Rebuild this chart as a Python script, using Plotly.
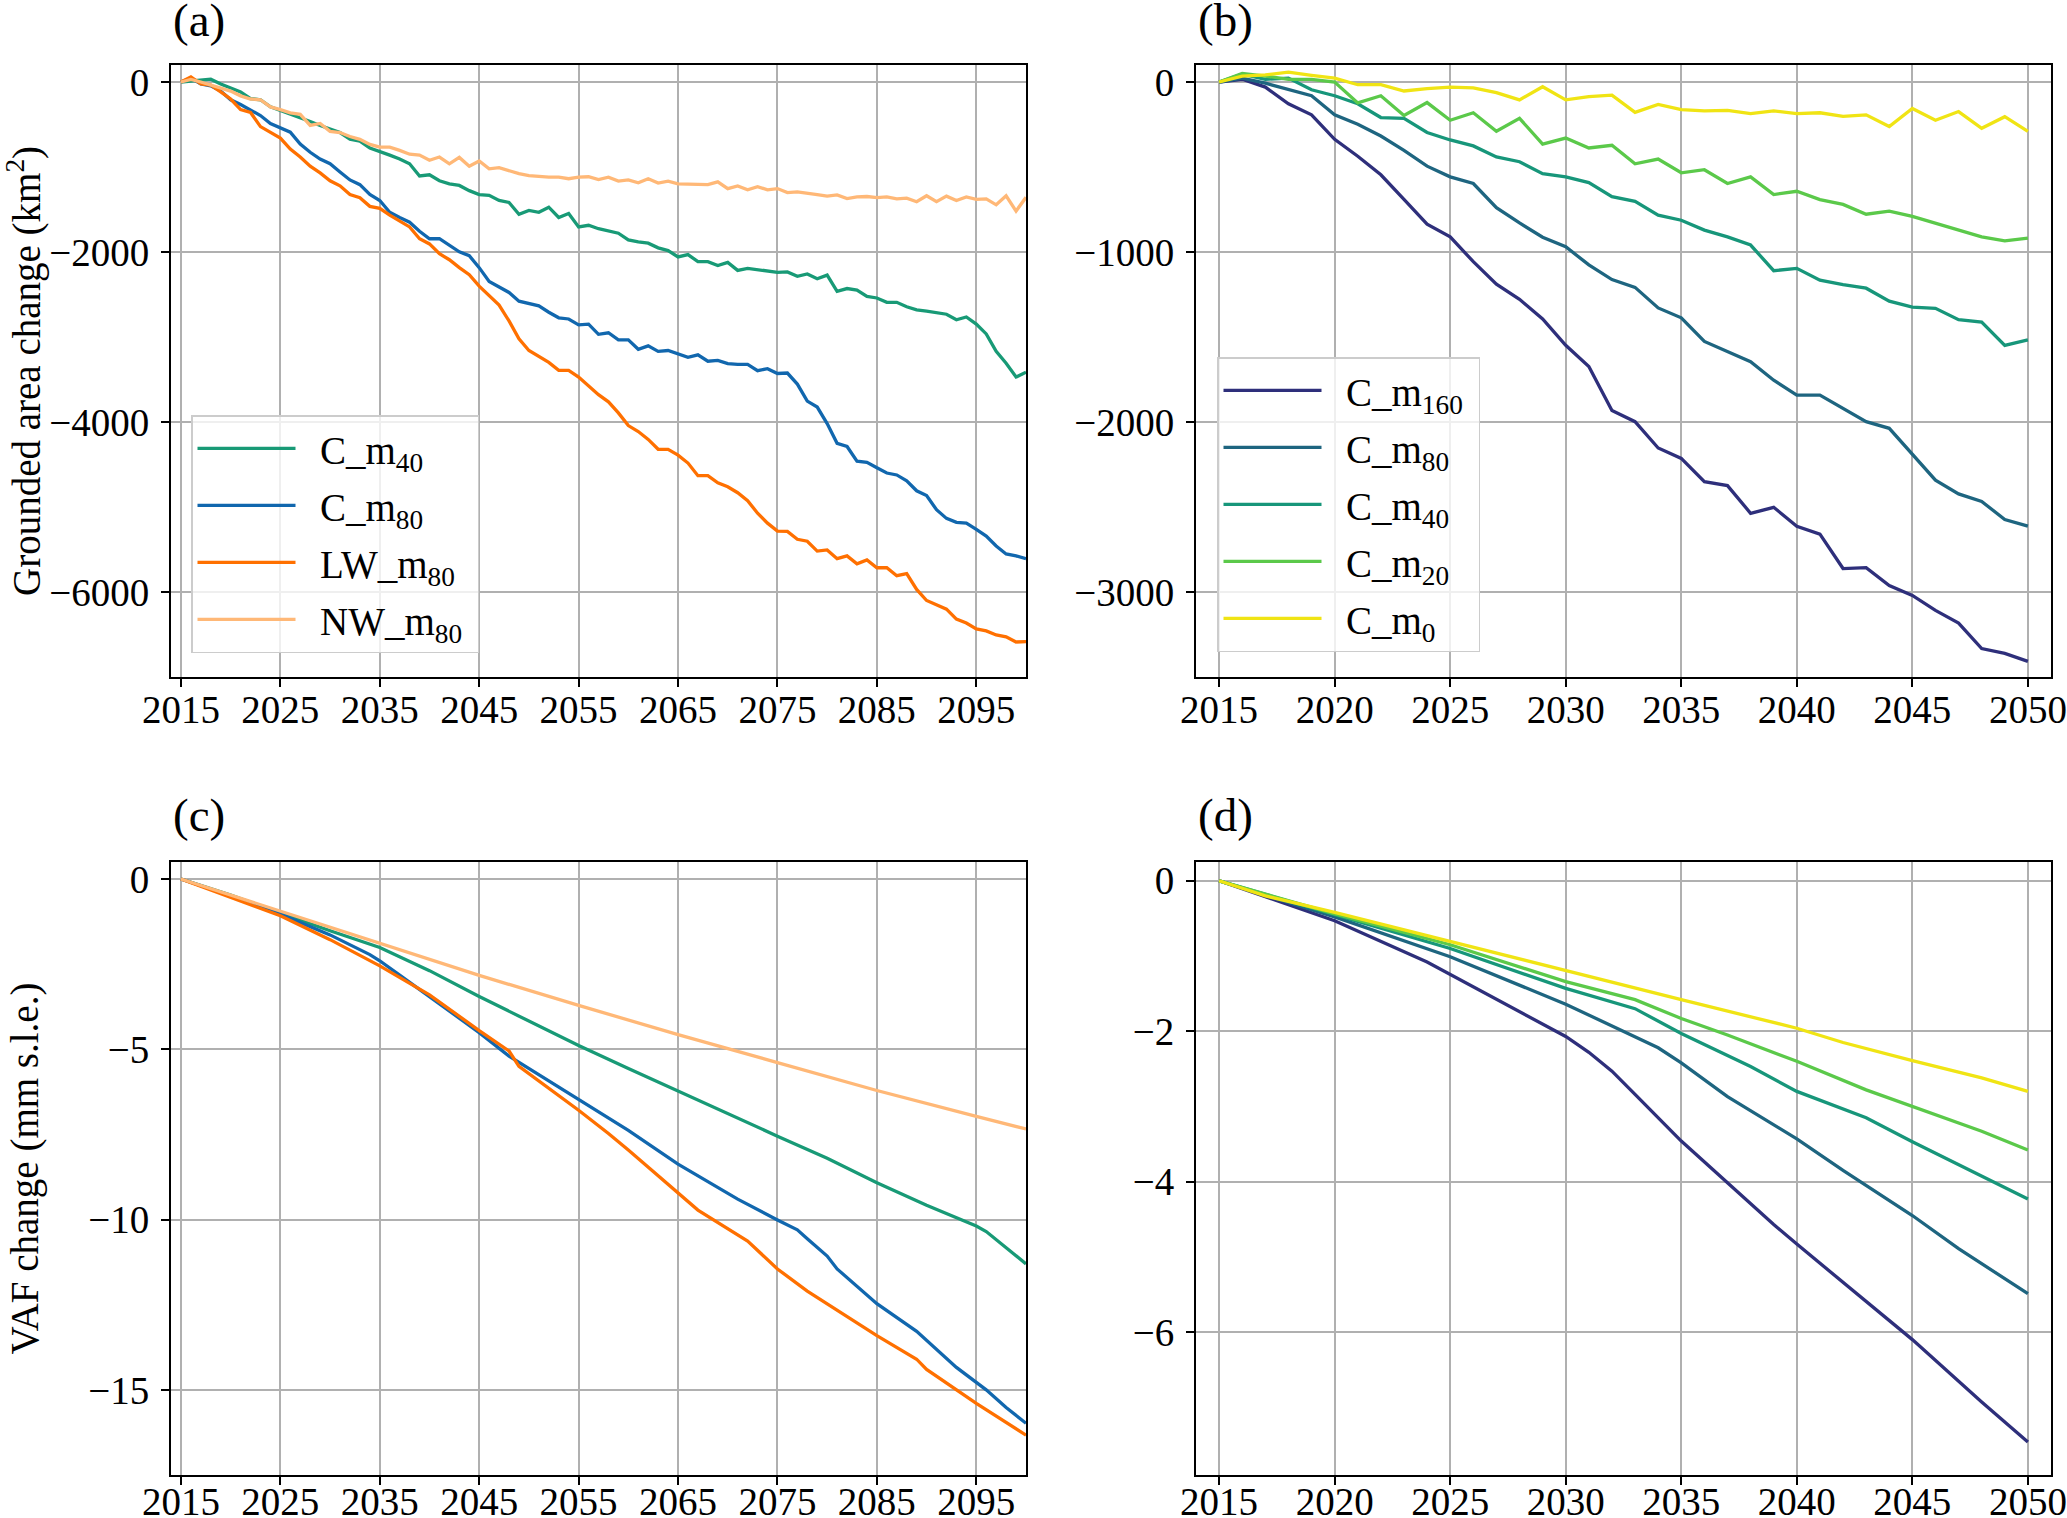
import plotly.graph_objects as go

# ---------------- data ----------------
years_a = list(range(2015, 2101))
years_b = list(range(2015, 2051))

# Panel (a): grounded area change (km^2), 2015-2100
a_C_m40 = [0, 10, 23, 33, -23, -70, -116, -195, -209, -293,
           -335, -372, -418, -465, -511, -558, -595, -674, -697, -776,
           -813, -860, -906, -962, -1106, -1092, -1162, -1199, -1217, -1278,
           -1324, -1333, -1394, -1417, -1556, -1510, -1533, -1473, -1594, -1547,
           -1705, -1686, -1726, -1752, -1779, -1858, -1882, -1896, -1951, -1984,
           -2058, -2030, -2114, -2114, -2160, -2123, -2216, -2193, -2207, -2230,
           -2239, -2235, -2286, -2258, -2314, -2272, -2462, -2430, -2448, -2523,
           -2541, -2592, -2592, -2644, -2681, -2695, -2709, -2732, -2797, -2764,
           -2848, -2964, -3169, -3308, -3471, -3415]
a_C_m80 = [0, 46, -23, -46, -107, -209, -265, -325, -395, -488,
           -544, -590, -729, -827, -906, -962, -1059, -1152, -1208, -1324,
           -1394, -1533, -1594, -1649, -1756, -1844, -1844, -1919, -1998, -2044,
           -2184, -2346, -2416, -2476, -2579, -2611, -2634, -2709, -2774, -2788,
           -2857, -2848, -2968, -2950, -3034, -3034, -3145, -3104, -3169, -3159,
           -3196, -3238, -3210, -3285, -3275, -3313, -3322, -3322, -3396, -3373,
           -3429, -3424, -3554, -3754, -3824, -4019, -4251, -4288, -4460, -4474,
           -4539, -4600, -4623, -4692, -4809, -4864, -5032, -5134, -5180, -5190,
           -5264, -5343, -5459, -5552, -5575, -5608]
a_LW_m80 = [0, 60, -23, -37, -116, -200, -325, -358, -525, -590,
            -660, -790, -883, -990, -1069, -1162, -1222, -1324, -1361, -1463,
            -1487, -1566, -1640, -1705, -1844, -1905, -2021, -2091, -2184, -2267,
            -2402, -2509, -2625, -2811, -3020, -3159, -3229, -3299, -3392, -3392,
            -3471, -3577, -3678, -3763, -3893, -4042, -4112, -4205, -4321, -4321,
            -4390, -4483, -4632, -4632, -4716, -4762, -4832, -4925, -5073, -5190,
            -5283, -5287, -5380, -5403, -5519, -5505, -5608, -5575, -5668, -5622,
            -5715, -5715, -5808, -5784, -5970, -6100, -6156, -6202, -6319, -6365,
            -6435, -6458, -6505, -6528, -6588, -6584]
a_NW_m80 = [0, 30, 0, -37, -70, -107, -163, -200, -209, -293,
            -325, -362, -381, -511, -488, -581, -595, -641, -674, -734,
            -767, -767, -804, -850, -860, -920, -883, -962, -887, -990,
            -929, -1022, -1008, -1045, -1078, -1101, -1115, -1120, -1120, -1138,
            -1120, -1115, -1148, -1120, -1166, -1152, -1185, -1138, -1189, -1166,
            -1199, -1203, -1208, -1208, -1175, -1254, -1222, -1268, -1231, -1268,
            -1254, -1301, -1292, -1305, -1324, -1343, -1329, -1371, -1352, -1347,
            -1361, -1352, -1375, -1366, -1408, -1338, -1408, -1343, -1394, -1352,
            -1380, -1375, -1445, -1338, -1519, -1357]

# Panel (b): grounded area change (km^2), 2015-2050
b_C_m160 = [0, 16, -30, -128, -193, -337, -437, -546, -690, -836,
            -911, -1057, -1189, -1278, -1394, -1549, -1673, -1933, -1998, -2153,
            -2214, -2351, -2374, -2537, -2502, -2613, -2660, -2862, -2857, -2962,
            -3020, -3108, -3183, -3333, -3361, -3408]
b_C_m80 = [0, 23, -7, -46, -81, -193, -249, -318, -402, -495,
           -558, -597, -739, -829, -913, -969, -1076, -1162, -1208, -1329,
           -1387, -1526, -1584, -1645, -1754, -1842, -1842, -1921, -1998, -2037,
           -2191, -2342, -2423, -2467, -2574, -2613]
b_C_m40 = [0, 46, 16, 23, -46, -81, -128, -209, -214, -297,
           -341, -376, -441, -469, -539, -558, -592, -674, -702, -783,
           -813, -871, -911, -959, -1110, -1096, -1166, -1192, -1213, -1289,
           -1324, -1331, -1398, -1412, -1549, -1517]
b_C_m20 = [0, 51, 35, 16, 16, 0, -123, -81, -197, -121,
           -225, -181, -290, -214, -365, -330, -388, -372, -481, -453,
           -534, -516, -597, -558, -662, -643, -692, -720, -778, -760,
           -790, -832, -871, -911, -934, -918]
b_C_m0 = [0, 35, 42, 58, 39, 23, -16, -16, -53, -39,
          -30, -35, -63, -105, -28, -105, -86, -77, -179, -132,
          -163, -170, -167, -186, -170, -186, -181, -202, -193, -262,
          -156, -225, -174, -272, -204, -290]

# Panel (c): VAF change (mm s.l.e.), 2015-2100
c_years_C_m40 = [2015, 2020, 2025, 2030, 2035, 2040, 2045, 2050, 2055, 2060,
                 2065, 2072, 2075, 2080, 2085, 2090, 2095, 2096, 2098, 2100]
c_C_m40 = [0, -0.47, -1.00, -1.52, -2.01, -2.69, -3.45, -4.16, -4.89, -5.56,
           -6.23, -7.15, -7.55, -8.20, -8.92, -9.58, -10.19, -10.35, -10.83, -11.30]
c_years_C_m80 = [2015, 2020, 2025, 2030, 2034, 2035, 2037, 2040, 2045, 2048,
                 2055, 2060, 2065, 2071, 2075, 2077, 2078, 2080, 2081, 2085,
                 2089, 2093, 2096, 2098, 2100]
c_C_m80 = [0, -0.49, -1.03, -1.64, -2.22, -2.40, -2.82, -3.45, -4.51, -5.20,
           -6.47, -7.38, -8.37, -9.40, -10.01, -10.30, -10.56, -11.07, -11.45, -12.47,
           -13.28, -14.34, -15.00, -15.52, -15.98]
c_years_LW_m80 = [2015, 2020, 2025, 2030, 2035, 2040, 2045, 2048, 2049, 2055,
                  2058, 2060, 2065, 2067, 2072, 2075, 2078, 2085, 2089, 2090,
                  2095, 2100]
c_LW_m80 = [0, -0.53, -1.08, -1.78, -2.55, -3.40, -4.45, -5.05, -5.50, -6.79,
            -7.47, -7.96, -9.23, -9.72, -10.63, -11.45, -12.10, -13.41, -14.10, -14.40,
            -15.40, -16.33]
c_years_NW_m80 = [2015, 2025, 2035, 2045, 2055, 2065, 2075, 2085, 2095, 2100]
c_NW_m80 = [0, -0.94, -1.90, -2.83, -3.71, -4.57, -5.39, -6.21, -6.97, -7.34]

# Panel (d): VAF change (mm s.l.e.), 2015-2050
d_years_C_m160 = [2015, 2020, 2024, 2027, 2030, 2031, 2032, 2033, 2034, 2035, 2039, 2040, 2045, 2048, 2050]
d_C_m160 = [0, -0.53, -1.08, -1.57, -2.07, -2.28, -2.53, -2.84, -3.15, -3.46, -4.57, -4.83, -6.10, -6.93, -7.46]
d_years_C_m80 = [2015, 2020, 2025, 2030, 2034, 2035, 2037, 2040, 2042, 2045, 2047, 2050]
d_C_m80 = [0, -0.48, -1.01, -1.64, -2.22, -2.42, -2.87, -3.43, -3.85, -4.45, -4.89, -5.49]
d_years_C_m40 = [2015, 2020, 2025, 2030, 2033, 2035, 2038, 2040, 2043, 2045, 2048, 2050]
d_C_m40 = [0, -0.45, -0.90, -1.43, -1.70, -2.03, -2.47, -2.80, -3.15, -3.47, -3.92, -4.23]
d_years_C_m20 = [2015, 2020, 2025, 2030, 2033, 2035, 2037, 2040, 2043, 2045, 2048, 2050]
d_C_m20 = [0, -0.44, -0.85, -1.34, -1.58, -1.83, -2.05, -2.40, -2.78, -3.00, -3.33, -3.58]
d_years_C_m0 = [2015, 2017, 2020, 2025, 2030, 2035, 2040, 2042, 2045, 2048, 2050]
d_C_m0 = [0, -0.20, -0.42, -0.81, -1.20, -1.58, -1.96, -2.15, -2.39, -2.62, -2.80]

# tick labels
xticks_ac = list(range(2015, 2100, 10))
xticks_bd = list(range(2015, 2051, 5))
yticks_a = [0, -2000, -4000, -6000]
yticks_b = [0, -1000, -2000, -3000]
yticks_c = [0, -5, -10, -15]
yticks_d = [0, -2, -4, -6]

ylabel_top = "Grounded area change (km<sup>2</sup>)"
ylabel_bottom = "VAF change (mm s.l.e.)"

# ---------------- styling ----------------
FONT = "Liberation Serif, Times New Roman, serif"
FS = 39
LW = 3.3
NB = "\u00a0\u00a0"
col_a = {"C_m40": "#189a76", "C_m80": "#1167ae", "LW_m80": "#ff7000", "NW_m80": "#ffb877"}
col_b = {"C_m160": "#2e2f7b", "C_m80": "#1e6580", "C_m40": "#17967a", "C_m20": "#5bc94a", "C_m0": "#f0e414"}


def label(name):
    base, sub = name.rsplit("m", 1)
    return f"{NB}{base}m<sub>{sub}</sub>\u00a0"


fig = go.Figure()


def add(x, y, name, color, xa, ya, legend=None):
    fig.add_trace(go.Scatter(
        x=x, y=y, mode="lines", name=label(name),
        line=dict(color=color, width=LW),
        xaxis=xa, yaxis=ya,
        showlegend=legend is not None,
        legend=legend if legend is not None else "legend",
        legendgroup=f"{xa}_{name}",
    ))


# (a)
add(years_a, a_C_m40, "C_m40", col_a["C_m40"], "x", "y", "legend")
add(years_a, a_C_m80, "C_m80", col_a["C_m80"], "x", "y", "legend")
add(years_a, a_LW_m80, "LW_m80", col_a["LW_m80"], "x", "y", "legend")
add(years_a, a_NW_m80, "NW_m80", col_a["NW_m80"], "x", "y", "legend")
# (b)
add(years_b, b_C_m160, "C_m160", col_b["C_m160"], "x2", "y2", "legend2")
add(years_b, b_C_m80, "C_m80", col_b["C_m80"], "x2", "y2", "legend2")
add(years_b, b_C_m40, "C_m40", col_b["C_m40"], "x2", "y2", "legend2")
add(years_b, b_C_m20, "C_m20", col_b["C_m20"], "x2", "y2", "legend2")
add(years_b, b_C_m0, "C_m0", col_b["C_m0"], "x2", "y2", "legend2")
# (c)
add(c_years_C_m40, c_C_m40, "C_m40", col_a["C_m40"], "x3", "y3")
add(c_years_C_m80, c_C_m80, "C_m80", col_a["C_m80"], "x3", "y3")
add(c_years_LW_m80, c_LW_m80, "LW_m80", col_a["LW_m80"], "x3", "y3")
add(c_years_NW_m80, c_NW_m80, "NW_m80", col_a["NW_m80"], "x3", "y3")
# (d)
add(d_years_C_m160, d_C_m160, "C_m160", col_b["C_m160"], "x4", "y4")
add(d_years_C_m80, d_C_m80, "C_m80", col_b["C_m80"], "x4", "y4")
add(d_years_C_m40, d_C_m40, "C_m40", col_b["C_m40"], "x4", "y4")
add(d_years_C_m20, d_C_m20, "C_m20", col_b["C_m20"], "x4", "y4")
add(d_years_C_m0, d_C_m0, "C_m0", col_b["C_m0"], "x4", "y4")

# full-window figure (the page body margin is removed by the post script below)
W, H = 2067, 1518
XL = [171 / W, 1026 / W]
XR = [1196 / W, 2051 / W]
YT = [1 - 677 / H, 1 - 65 / H]
YB = [1 - 1475 / H, 1 - 862 / H]

axis_common = dict(
    showline=True, linecolor="black", linewidth=2, mirror=True,
    ticks="outside", ticklen=8, tickwidth=1.5, tickcolor="black",
    showgrid=True, gridcolor="#b0b0b0", gridwidth=1.5, zeroline=False,
    tickfont=dict(family=FONT, size=FS, color="black"),
    automargin=False, tickformat="d", ticklabeloverflow="allow",
)
x_top = dict(axis_common, ticklabelstandoff=-11)
x_bot = dict(axis_common, ticklabelstandoff=-17)
ycommon = dict(axis_common, ticklabelstandoff=4)

legend_common = dict(
    xanchor="left", yanchor="top",
    bgcolor="rgba(255,255,255,0.8)", bordercolor="#cccccc", borderwidth=1.5,
    font=dict(family=FONT, size=FS, color="black"),
    tracegroupgap=3.3, itemwidth=98, traceorder="grouped",
)

fig.update_layout(
    template="none",
    width=W, height=H,
    margin=dict(l=0, r=0, t=0, b=0),
    paper_bgcolor="white", plot_bgcolor="white",
    font=dict(family=FONT, size=FS, color="black"),
    xaxis=dict(domain=XL, anchor="y", range=[2014, 2100], tickvals=xticks_ac, **x_top),
    yaxis=dict(domain=YT, anchor="x", range=[-7000, 200], tickvals=yticks_a, **ycommon),
    xaxis2=dict(domain=XR, anchor="y2", range=[2014, 2051], tickvals=xticks_bd, **x_top),
    yaxis2=dict(domain=YT, anchor="x2", range=[-3500, 100], tickvals=yticks_b, **ycommon),
    xaxis3=dict(domain=XL, anchor="y3", range=[2014, 2100], tickvals=xticks_ac, **x_bot),
    yaxis3=dict(domain=YB, anchor="x3", range=[-17.5, 0.5], tickvals=yticks_c, **ycommon),
    xaxis4=dict(domain=XR, anchor="y4", range=[2014, 2051], tickvals=xticks_bd, **x_bot),
    yaxis4=dict(domain=YB, anchor="x4", range=[-7.9, 0.25], tickvals=yticks_d, **ycommon),
    legend=dict(x=191 / W, y=1 - 415 / H, **legend_common),
    legend2=dict(x=1217 / W, y=1 - 357 / H, **legend_common),
    showlegend=True,
)

# panel letters
for txt, xd, yc in [("(a)", XL[0], 20.5), ("(b)", XR[0], 20.5), ("(c)", XL[0], 815), ("(d)", XR[0], 815)]:
    fig.add_annotation(text=txt, x=xd, y=1 - yc / H, xref="paper", yref="paper",
                       xanchor="left", yanchor="middle", showarrow=False,
                       font=dict(family=FONT, size=47, color="black"))

# y-axis titles (aligned, like matplotlib's align_ylabels)
for txt, dom in [(ylabel_top, YT), (ylabel_bottom, YB)]:
    fig.add_annotation(text=txt, x=24 / W, y=(dom[0] + dom[1]) / 2, xref="paper", yref="paper",
                       xanchor="center", yanchor="middle", textangle=-90, showarrow=False,
                       font=dict(family=FONT, size=FS, color="black"))

fig.write_html(
    "out.html",
    config={"displayModeBar": False},
    post_script="document.body.style.margin='0px';document.body.style.overflow='hidden';",
)
